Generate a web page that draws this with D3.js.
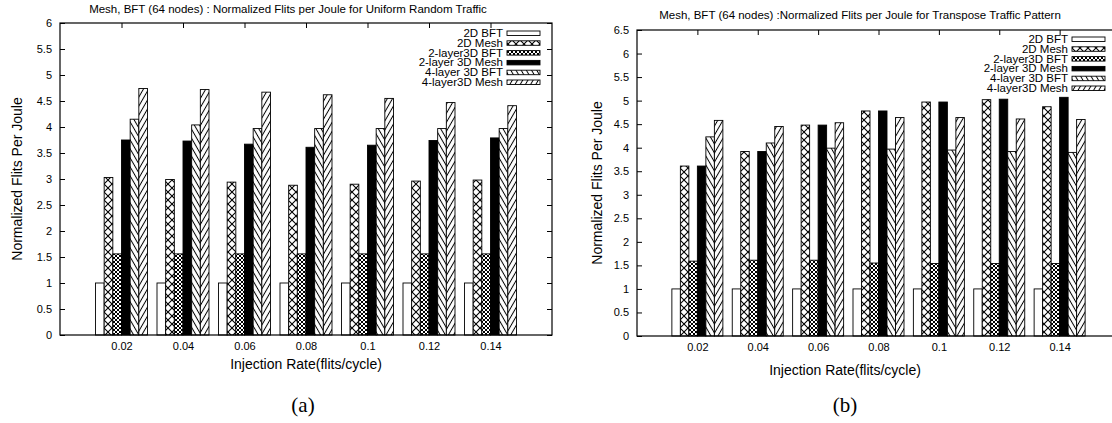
<!DOCTYPE html>
<html>
<head>
<meta charset="utf-8">
<script src="https://cdn.jsdelivr.net/npm/d3@7"></script>
<style>
  body { margin: 0; background: #fff; }
  svg { display: block; font-family: "Liberation Sans", Arial, sans-serif; }
</style>
</head>
<body>
<div id="chart"></div>
<script>
// ── data ─────────────────────────────────────────────────────────
const injectionRates = [0.02, 0.04, 0.06, 0.08, 0.1, 0.12, 0.14]
const seriesNames = ['2D BFT', '2D Mesh', '2-layer3D BFT', '2-layer 3D Mesh', '4-layer 3D BFT', '4-layer3D Mesh']

// (a) uniform random traffic
const uniform2dBft   = [1.00, 1.00, 1.00, 1.00, 1.00, 1.00, 1.00]
const uniform2dMesh  = [3.03, 2.99, 2.94, 2.88, 2.90, 2.96, 2.98]
const uniform2lBft   = [1.56, 1.56, 1.56, 1.56, 1.56, 1.56, 1.56]
const uniform2lMesh  = [3.75, 3.73, 3.67, 3.61, 3.65, 3.74, 3.79]
const uniform4lBft   = [4.15, 4.04, 3.97, 3.97, 3.97, 3.97, 3.97]
const uniform4lMesh  = [4.74, 4.72, 4.67, 4.62, 4.55, 4.47, 4.41]

// (b) transpose traffic
const transpose2dBft  = [1.00, 1.00, 1.00, 1.00, 1.00, 1.00, 1.00]
const transpose2dMesh = [3.61, 3.92, 4.48, 4.78, 4.97, 5.02, 4.87]
const transpose2lBft  = [1.59, 1.61, 1.61, 1.55, 1.54, 1.54, 1.54]
const transpose2lMesh = [3.61, 3.92, 4.48, 4.78, 4.97, 5.03, 5.07]
const transpose4lBft  = [4.23, 4.10, 3.99, 3.97, 3.95, 3.92, 3.90]
const transpose4lMesh = [4.58, 4.45, 4.53, 4.64, 4.64, 4.61, 4.60]

const yTicksA = d3.range(0, 6.01, 0.5)
const yTicksB = d3.range(0, 6.51, 0.5)

const fills = ['#fff', 'url(#pXbig)', 'url(#pXfine)', '#000', 'url(#pBack)', 'url(#pFwd)']

const W = 1112, H = 423
const svg = d3.select('#chart').append('svg').attr('width', W).attr('height', H)

// ── fill patterns (gnuplot style) ───────────────────────────────
const defs = svg.append('defs')
function pattern(id, size, pathD, sw, transform) {
  const p = defs.append('pattern').attr('id', id)
    .attr('patternUnits', 'userSpaceOnUse').attr('width', size).attr('height', size)
  if (transform) p.attr('patternTransform', transform)
  p.append('rect').attr('width', size).attr('height', size).attr('fill', '#fff')
  p.append('path').attr('d', pathD).attr('stroke', '#000').attr('stroke-width', sw).attr('fill', 'none')
}
pattern('pXbig', 8, 'M0,0L8,8M8,0L0,8', 1.1)
pattern('pXfine', 4, 'M0,0L4,4M4,0L0,4', 1)
pattern('pBack', 4.5, 'M2.25,-1V6', 1, 'rotate(-30)')
pattern('pFwd', 4.5, 'M2.25,-1V6', 1, 'rotate(30)')

function drawPanel(cfg) {
  const { left, right, top, bottom, yMax, yTicks, series, title, titleX, titleY,
          xLabelX, xLabelY, yLabelX, tag, tagX, legendRight, legendTop, groupW } = cfg
  const g = svg.append('g')

  const x = d3.scaleLinear().domain([0, 0.16]).range([left, right])
  const y = d3.scaleLinear().domain([0, yMax]).range([bottom, top])
  const inner = d3.scaleBand().domain(seriesNames).range([-groupW / 2, groupW / 2])

  // bars
  seriesNames.forEach((name, si) => {
    g.append('g').selectAll('rect').data(series[si]).join('rect')
      .attr('x', (d, i) => x(injectionRates[i]) + inner(name))
      .attr('y', d => y(d))
      .attr('width', inner.bandwidth())
      .attr('height', d => y(0) - y(d))
      .attr('fill', fills[si])
      .attr('stroke', '#000').attr('stroke-width', 0.9)
  })

  // axes
  const fmt = d3.format('~g')
  const yAxis = g.append('g').attr('transform', `translate(${left},0)`)
    .call(d3.axisLeft(y).tickValues(yTicks).tickFormat(fmt).tickSize(-5).tickPadding(8))
  const yMirror = g.append('g').attr('transform', `translate(${right},0)`)
    .call(d3.axisRight(y).tickValues(yTicks).tickFormat('').tickSize(-5))
  const xAxis = g.append('g').attr('transform', `translate(0,${bottom})`)
    .call(d3.axisBottom(x).tickValues(injectionRates).tickFormat(fmt).tickSize(-5).tickPadding(7))
  const xMirror = g.append('g').attr('transform', `translate(0,${top})`)
    .call(d3.axisTop(x).tickValues(injectionRates).tickFormat('').tickSize(-5))
  ;[yAxis, yMirror, xAxis, xMirror].forEach(a => {
    a.select('.domain').remove()
    a.selectAll('text').style('font-size', '11px').attr('fill', '#000')
    a.selectAll('line').attr('stroke', '#000')
  })

  g.append('rect')
    .attr('x', left).attr('y', top).attr('width', right - left).attr('height', bottom - top)
    .attr('fill', 'none').attr('stroke', '#000').attr('stroke-width', 1.2)

  // legend
  const leg = g.append('g')
  seriesNames.forEach((name, si) => {
    const ly = legendTop + si * 9.8
    leg.append('text').attr('x', legendRight - 37).attr('y', ly + 4)
      .attr('text-anchor', 'end').style('font-size', '11.5px').text(name)
    leg.append('rect').attr('x', legendRight - 33).attr('y', ly - 2)
      .attr('width', 33).attr('height', 4.5)
      .attr('fill', fills[si]).attr('stroke', '#000').attr('stroke-width', 0.9)
  })

  // labels
  g.append('text').attr('x', titleX).attr('y', titleY).attr('text-anchor', 'middle')
    .style('font-size', '11.5px').text(title)
  g.append('text').attr('x', xLabelX).attr('y', xLabelY).attr('text-anchor', 'middle')
    .style('font-size', '14px').text('Injection Rate(flits/cycle)')
  g.append('text').attr('transform', `translate(${yLabelX},${(top + bottom) / 2}) rotate(-90)`)
    .attr('text-anchor', 'middle').style('font-size', '14px').text('Normalized Flits Per Joule')
  g.append('text').attr('x', tagX).attr('y', 412).attr('text-anchor', 'middle')
    .style('font-family', '"Liberation Serif", "DejaVu Serif", serif').style('font-size', '21px')
    .text(tag)
}

drawPanel({
  left: 60, right: 552, top: 23, bottom: 335, yMax: 6, yTicks: yTicksA, groupW: 52,
  series: [uniform2dBft, uniform2dMesh, uniform2lBft, uniform2lMesh, uniform4lBft, uniform4lMesh],
  title: 'Mesh, BFT (64 nodes) : Normalized Flits per Joule for Uniform Random Traffic',
  titleX: 288, titleY: 13, xLabelX: 306, xLabelY: 369, yLabelX: 22, tag: '(a)', tagX: 303,
  legendRight: 540, legendTop: 33
})

drawPanel({
  left: 637, right: 1120, top: 30, bottom: 336, yMax: 6.5, yTicks: yTicksB, groupW: 51,
  series: [transpose2dBft, transpose2dMesh, transpose2lBft, transpose2lMesh, transpose4lBft, transpose4lMesh],
  title: 'Mesh, BFT (64 nodes) :Normalized Flits per Joule for Transpose Traffic Pattern',
  titleX: 860, titleY: 19, xLabelX: 845, xLabelY: 375, yLabelX: 602, tag: '(b)', tagX: 845,
  legendRight: 1105, legendTop: 39
})
</script>
</body>
</html>
